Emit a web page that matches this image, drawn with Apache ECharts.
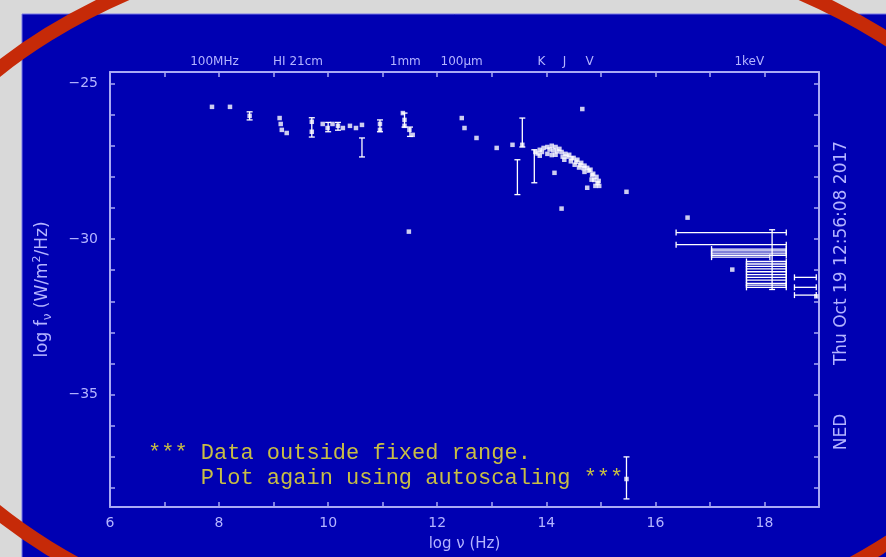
<!DOCTYPE html>
<html>
<head>
<meta charset="utf-8">
<script src="https://cdn.jsdelivr.net/npm/echarts@6/dist/echarts.min.js"></script>
<style>
  html, body { margin: 0; padding: 0; background: #d9d9d9; }
  #sed { width: 886px; height: 557px; }
</style>
</head>
<body>
<div id="sed"></div>
<script>
// Spectral energy distribution: log nu (Hz) versus log f_nu (W/m^2/Hz)

// photometric points [log nu, log f_nu]
const photometry = [
  [7.87, -25.75], [8.20, -25.75], [8.56, -26.04],
  [9.11, -26.11], [9.13, -26.30], [9.15, -26.49], [9.24, -26.59],
  [9.70, -26.23], [9.70, -26.55],
  [9.90, -26.30], [9.99, -26.43], [10.08, -26.30], [10.18, -26.36], [10.27, -26.43],
  [10.40, -26.36], [10.51, -26.43], [10.62, -26.33],
  [10.95, -26.30], [10.95, -26.49],
  [11.37, -25.95], [11.40, -26.17], [11.40, -26.36], [11.49, -26.49], [11.55, -26.65],
  [11.48, -29.76],
  [12.45, -26.11], [12.50, -26.43], [12.72, -26.75],
  [13.09, -27.07], [13.38, -26.97], [13.56, -26.97],
  [13.80, -27.20], [13.88, -27.13], [13.95, -27.07], [14.02, -27.04], [14.10, -27.00],
  [14.17, -27.04], [14.24, -27.10], [14.28, -27.20], [14.35, -27.26], [14.42, -27.29],
  [14.50, -27.39], [14.57, -27.45], [14.64, -27.55], [14.70, -27.64], [14.75, -27.71],
  [14.81, -27.77], [14.86, -27.90], [14.92, -28.00], [14.96, -28.13], [14.97, -28.29],
  [13.88, -27.32], [14.02, -27.26], [14.17, -27.29], [14.33, -27.45], [14.52, -27.61],
  [14.70, -27.84], [14.83, -28.09], [14.90, -28.29], [14.75, -28.35],
  [13.84, -27.25], [13.92, -27.20], [14.06, -27.12], [14.13, -27.15], [14.20, -27.18],
  [14.38, -27.35], [14.46, -27.40], [14.55, -27.52], [14.62, -27.62], [14.68, -27.72],
  [14.78, -27.80], [14.84, -27.95], [14.88, -28.10], [14.94, -28.20], [14.60, -27.70],
  [14.45, -27.50], [14.30, -27.35], [14.10, -27.30],
  [14.15, -27.87], [14.66, -25.82], [14.28, -29.02], [15.47, -28.48],
  [16.59, -29.31], [17.41, -30.98], [18.95, -31.84], [15.47, -37.71]
];

// vertical uncertainties [log nu, low, high]
const fluxErrors = [
  [8.56, -25.91, -26.17],
  [9.70, -26.10, -26.72],
  [10.00, -26.25, -26.55],
  [10.18, -26.25, -26.50],
  [10.62, -26.75, -27.36],
  [10.95, -26.17, -26.55],
  [11.40, -25.95, -26.40],
  [11.50, -26.40, -26.70],
  [13.56, -26.11, -27.04],
  [13.47, -27.45, -28.57],
  [13.78, -27.13, -28.19],
  [18.14, -29.70, -31.62],
  [15.47, -37.00, -38.35]
];

// band widths [log nu low, log nu high, log f_nu]
const bandWidths = [
  [16.38, 18.40, -29.79],
  [16.38, 18.40, -30.18],
  [17.03, 18.40, -30.32],
  [17.03, 18.40, -30.38],
  [17.03, 18.40, -30.45],
  [17.03, 18.40, -30.52],
  [17.03, 18.10, -30.58],
  [17.67, 18.40, -30.72],
  [17.67, 18.40, -30.80],
  [17.67, 18.40, -30.88],
  [17.67, 18.40, -30.96],
  [17.67, 18.40, -31.05],
  [17.67, 18.40, -31.14],
  [17.67, 18.40, -31.23],
  [17.67, 18.40, -31.32],
  [17.67, 18.40, -31.42],
  [17.67, 18.40, -31.48],
  [17.67, 18.40, -31.55],
  [18.55, 18.95, -31.23],
  [18.55, 18.95, -31.55],
  [18.55, 18.95, -31.80]
];

// axis ranges and tick labels
const xRange = [6, 19];
const yRange = [-38.61, -24.63];
const xTickValues = [7, 8, 9, 10, 11, 12, 13, 14, 15, 16, 17, 18];
const xLabelValues = [6, 8, 10, 12, 14, 16, 18];
const yTickValues = [-38, -37, -36, -35, -34, -33, -32, -31, -30, -29, -28, -27, -26, -25];
const yLabelValues = [-35, -30, -25];
const bandNames = ['100MHz', 'HI 21cm', '1mm', '100µm', 'K', 'J', 'V', '1keV'];
const bandPositions = [7.47, 8.99, 11.13, 12.06, 13.84, 14.30, 14.72, 17.45];

const frameColor = '#a9a9f4';
const textColor = '#b4b4ff';
const markColor = '#ffffff';
const noteColor = '#c8be44';

function vBar(params, api) {
  const x = api.value(0);
  const a = api.coord([x, api.value(1)]);
  const b = api.coord([x, api.value(2)]);
  const st = { stroke: markColor, lineWidth: 1.3 };
  const c = 3;
  return { type: 'group', children: [
    { type: 'line', shape: { x1: a[0], y1: a[1], x2: b[0], y2: b[1] }, style: st },
    { type: 'line', shape: { x1: a[0] - c, y1: a[1], x2: a[0] + c, y2: a[1] }, style: st },
    { type: 'line', shape: { x1: b[0] - c, y1: b[1], x2: b[0] + c, y2: b[1] }, style: st }
  ]};
}

function hBar(params, api) {
  const y = api.value(2);
  const a = api.coord([api.value(0), y]);
  const b = api.coord([api.value(1), y]);
  const st = { stroke: markColor, lineWidth: 1.3 };
  const c = 3;
  return { type: 'group', children: [
    { type: 'line', shape: { x1: a[0], y1: a[1], x2: b[0], y2: b[1] }, style: st },
    { type: 'line', shape: { x1: a[0], y1: a[1] - c, x2: a[0], y2: a[1] + c }, style: st },
    { type: 'line', shape: { x1: b[0], y1: b[1] - c, x2: b[0], y2: b[1] + c }, style: st }
  ]};
}

function bandLabel(v) {
  for (let i = 0; i < bandPositions.length; i++) {
    if (Math.abs(bandPositions[i] - v) < 1e-6) return bandNames[i];
  }
  return '';
}

const tickStyle = { show: true, inside: true, length: 5, lineStyle: { color: frameColor, width: 1.5 } };
const lineStyle = { show: true, lineStyle: { color: frameColor, width: 2 } };
const labelFont = { color: textColor, fontFamily: 'DejaVu Sans', fontSize: 14 };

const chart = echarts.init(document.getElementById('sed'), null, { renderer: 'canvas' });
chart.setOption({
  backgroundColor: 'transparent',
  animation: false,
  grid: { left: 110, top: 72, width: 709, height: 436, containLabel: false },
  xAxis: [
    {
      type: 'value', position: 'bottom', min: xRange[0], max: xRange[1],
      axisLine: lineStyle, splitLine: { show: false },
      axisTick: Object.assign({ customValues: xTickValues }, tickStyle),
      axisLabel: Object.assign({ customValues: xLabelValues, margin: 9 }, labelFont),
      name: 'log ν (Hz)', nameLocation: 'middle', nameGap: 30,
      nameTextStyle: { color: textColor, fontFamily: 'DejaVu Sans', fontSize: 15 }
    },
    {
      type: 'value', position: 'top', min: xRange[0], max: xRange[1],
      axisLine: lineStyle, splitLine: { show: false },
      axisTick: Object.assign({ customValues: xTickValues }, tickStyle),
      axisLabel: Object.assign({ customValues: bandPositions, margin: 4, align: 'left',
        formatter: bandLabel }, labelFont, { fontSize: 12 })
    }
  ],
  yAxis: [
    {
      type: 'value', position: 'left', min: yRange[0], max: yRange[1],
      axisLine: lineStyle, splitLine: { show: false },
      axisTick: Object.assign({ customValues: yTickValues }, tickStyle),
      axisLabel: Object.assign({ customValues: yLabelValues, margin: 12,
        formatter: v => String(v).replace('-', '−') }, labelFont),
      name: 'log f{s|ν} (W/m{p|2}/Hz)', nameLocation: 'middle', nameGap: 56, nameRotate: 90,
      nameTextStyle: {
        color: textColor, fontFamily: 'DejaVu Sans', fontSize: 17,
        rich: {
          s: { color: textColor, fontFamily: 'DejaVu Sans', fontSize: 12, verticalAlign: 'bottom', lineHeight: 22 },
          p: { color: textColor, fontFamily: 'DejaVu Sans', fontSize: 11, verticalAlign: 'top', lineHeight: 22 }
        }
      }
    },
    {
      type: 'value', position: 'right', min: yRange[0], max: yRange[1],
      axisLine: lineStyle, splitLine: { show: false },
      axisTick: Object.assign({ customValues: yTickValues }, tickStyle),
      axisLabel: { show: false }
    }
  ],
  graphic: [
    { type: 'rect', z: -10, shape: { x: 22, y: 14, width: 900, height: 600 },
      style: { fill: '#0000b2', stroke: '#7878e6', lineWidth: 1 } },
    { type: 'text', z: 5, x: 842, y: 253, rotation: Math.PI / 2,
      style: { text: 'Thu Oct 19 12:56:08 2017', fill: textColor, font: '17px "DejaVu Sans"',
        align: 'center', verticalAlign: 'middle' } },
    { type: 'text', z: 5, x: 842, y: 432, rotation: Math.PI / 2,
      style: { text: 'NED', fill: textColor, font: '17px "DejaVu Sans"',
        align: 'center', verticalAlign: 'middle' } },
    { type: 'text', z: 5, x: 148, y: 453,
      style: { text: '*** Data outside fixed range.', fill: noteColor,
        font: '22px "Liberation Mono"', align: 'left', verticalAlign: 'middle' } },
    { type: 'text', z: 5, x: 148, y: 478,
      style: { text: '    Plot again using autoscaling ***', fill: noteColor,
        font: '22px "Liberation Mono"', align: 'left', verticalAlign: 'middle' } },
    { type: 'ellipse', z: 100, shape: { cx: 464, cy: 291, rx: 588, ry: 363 },
      style: { fill: null, stroke: '#c62a08', lineWidth: 14 } }
  ],
  series: [
    { type: 'custom', name: 'flux errors', renderItem: vBar, data: fluxErrors, z: 3 },
    { type: 'custom', name: 'band widths', renderItem: hBar, data: bandWidths, z: 3 },
    { type: 'scatter', name: 'photometry', data: photometry, symbol: 'rect', symbolSize: 4.5,
      itemStyle: { color: markColor }, z: 4 }
  ]
});
</script>
</body>
</html>
